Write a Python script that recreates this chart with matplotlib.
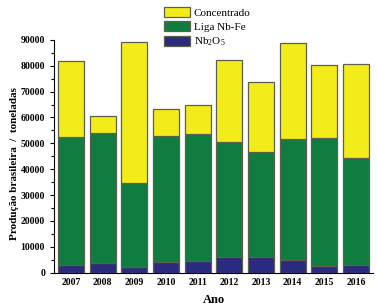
import numpy as np
import matplotlib
matplotlib.use("Agg")
import matplotlib.pyplot as plt

plt.rcParams['font.family'] = ['Liberation Serif', 'DejaVu Serif']
plt.rcParams['mathtext.fontset'] = 'custom'
plt.rcParams['mathtext.rm'] = 'Liberation Serif'

# === Dados (toneladas) ===
anos = ["2007", "2008", "2009", "2010", "2011", "2012", "2013", "2014", "2015", "2016"]
nb2o5 = [2960, 3730, 2320, 4250, 4500, 6180, 6150, 4850, 2650, 3090]
liga_nbfe = [49590, 50230, 32320, 48430, 49200, 44300, 40460, 46800, 49250, 41260]
concentrado = [29350, 6700, 54360, 10550, 11080, 31670, 27040, 37060, 28450, 36250]

x = np.arange(len(anos))
edge = '#5e5e4e'

fig = plt.figure(figsize=(3.78, 3.07), dpi=100)
ax = fig.add_axes([0.143, 0.112, 0.844, 0.758])

b1 = ax.bar(x, nb2o5, width=0.82, color='#2a2a7e', edgecolor=edge, linewidth=0.9, label='Nb$_2$O$_5$')
b2 = ax.bar(x, liga_nbfe, width=0.82, bottom=nb2o5, color='#0f7d40', edgecolor=edge, linewidth=0.9, label='Liga Nb-Fe')
base = [a + b for a, b in zip(nb2o5, liga_nbfe)]
b3 = ax.bar(x, concentrado, width=0.82, bottom=base, color='#f3ec1b', edgecolor=edge, linewidth=0.9, label='Concentrado')

ax.set_xlim(-0.54, 9.54)
ax.set_ylim(0, 90000)
ax.set_xticks(x)
ax.set_xticklabels(anos, fontsize=7, fontweight='bold')
ax.set_yticks(np.arange(0, 90001, 10000))
ax.set_yticks(np.arange(0, 90001, 5000), minor=True)
ax.tick_params(axis='y', labelsize=7, direction='out', length=3, width=0.8)
ax.tick_params(axis='y', which='minor', length=2, width=0.8)
ax.tick_params(axis='x', length=0, pad=4)
for lbl in ax.get_yticklabels():
    lbl.set_fontweight('bold')

ax.spines['top'].set_visible(False)
ax.spines['right'].set_visible(False)

ax.set_xlabel("Ano", fontsize=9, fontweight='bold', labelpad=5)
ax.set_ylabel("Produção brasileira  /  toneladas", fontsize=8, fontweight='bold')
ax.yaxis.set_label_coords(-0.11, 0.47)

leg = ax.legend(handles=[b3, b2, b1], loc='lower left', bbox_to_anchor=(0.33, 0.945),
                frameon=False, fontsize=8, handlelength=2.4, handleheight=1.0,
                labelspacing=0.3, handletextpad=0.3, borderaxespad=0)
leg.set_zorder(5)

fig.savefig("out.png", dpi=100)
